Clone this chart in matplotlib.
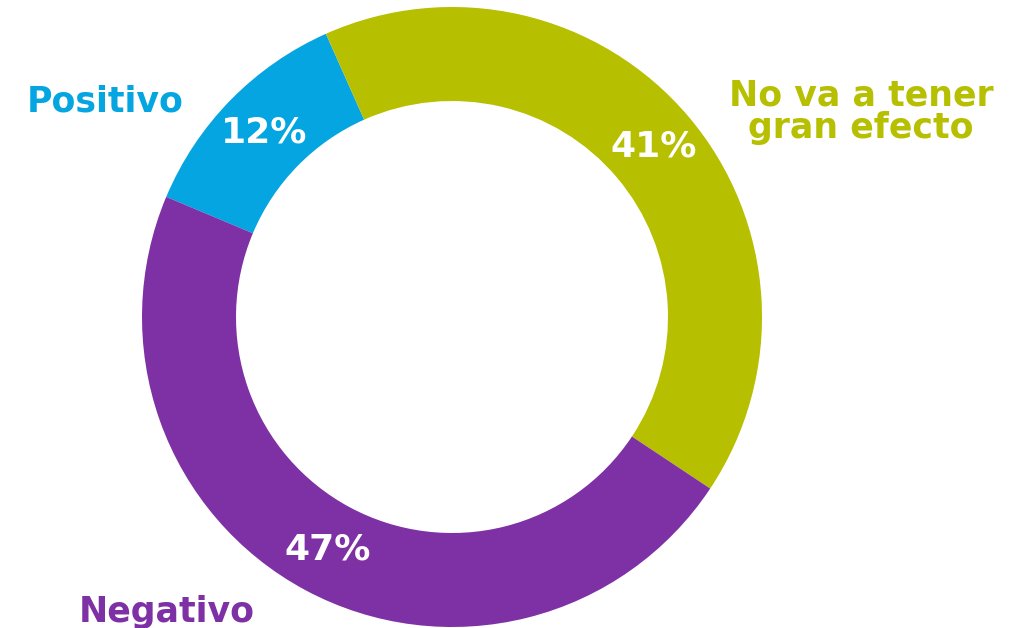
import matplotlib
matplotlib.use("Agg")
import matplotlib.pyplot as plt

# data
categories = ["Positivo", "No va a tener\ngran efecto", "Negativo"]
values = [12, 41, 47]
colors = ["#04A5E0", "#B6BF00", "#7E30A5"]

W, H = 1021, 628
fig = plt.figure(figsize=(W / 100, H / 100), dpi=100)
ax = fig.add_axes([0, 0, 1, 1])

# donut, clockwise starting with Positivo
wedges, texts, autotexts = ax.pie(
    values, colors=colors, startangle=157.2, counterclock=False,
    center=(452, H - 317), radius=310,
    wedgeprops=dict(width=94, linewidth=0),
    autopct=lambda p: f"{p:.0f}%", pctdistance=0.85,
    textprops=dict(color="white", fontsize=26, fontweight="bold",
                   family="DejaVu Sans"),
)
for t in autotexts:
    t.set_va("center")
    t.set_ha("center")

ax.set_xlim(0, W)
ax.set_ylim(0, H)
ax.set_aspect("equal")
ax.axis("off")

# category labels (pixel positions measured from top)
label_pos = [(105, 112), (861, 105), (167, 622)]
for name, col, (x, y) in zip(categories, colors, label_pos):
    lines = name.split("\n")
    for i, ln in enumerate(lines):
        ax.text(x, H - (y + i * 33), ln, color=col, fontsize=25,
                fontweight="bold", ha="center", va="baseline",
                family="DejaVu Sans")

fig.savefig("out.png", dpi=100, facecolor="white")
plt.close(fig)
